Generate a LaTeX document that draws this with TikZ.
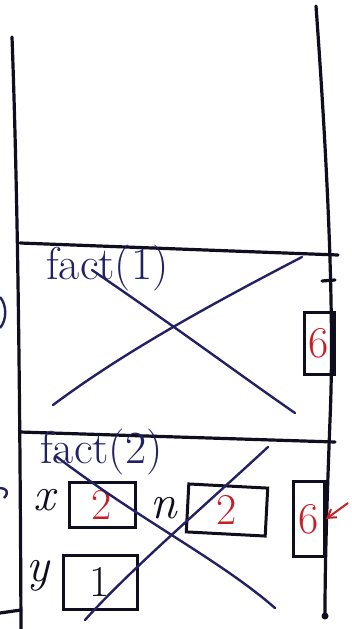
\documentclass[tikz,border=0pt]{standalone}
\usetikzlibrary{arrows.meta}
\definecolor{ink}{RGB}{15,14,30}
\definecolor{pen}{RGB}{35,33,100}
\definecolor{redink}{RGB}{200,30,40}
\tikzset{
  wall/.style={ink, line width=3.2pt, line cap=round},
  cross/.style={pen, line width=2.4pt, line cap=round},
  valbox/.style={draw=ink, line width=3pt, inner sep=0pt},
  lbl/.style={pen, font=\fontsize{46}{50}\selectfont, inner sep=0pt},
  var/.style={ink, font=\itshape\fontsize{48}{52}\selectfont, inner sep=0pt},
  val/.style={redink, font=\fontsize{44}{48}\selectfont, inner sep=0pt},
}
\begin{document}
\begin{tikzpicture}[x=1pt,y=-1pt]
\useasboundingbox (0,0) rectangle (351,629);
% stack walls
\draw[wall] (12,37) .. controls (18,200) and (20,400) .. (21,629);
\draw[wall] (316,6) .. controls (330,200) and (334,330) .. (330,420) .. controls (327,500) and (325,560) .. (325,615);
\fill[ink] (325,616) circle (3.5pt);
% frame separators
\draw[wall] (20,243) -- (338,255);
\draw[wall] (20,432) -- (335,442);
% fact(1) frame
\node[lbl, anchor=west] (f1) at (46,268) {fact(1)};
\node[valbox, minimum width=30pt, minimum height=62pt] (r1) at (319,343) {};
\node[val] at (r1.center) {6};
\draw[cross] (92,270) .. controls (180,330) and (240,375) .. (295,413);
\draw[cross] (302,257) .. controls (200,310) and (120,355) .. (53,405);
% fact(2) frame
\node[lbl, anchor=west] (f2) at (40,452) {fact(2)};
\node[var] (lx) at (44,500) {x};
\node[valbox, minimum width=66pt, minimum height=45pt] (bx) at (102,505) {};
\node[val] at (bx.center) {2};
\node[var] (ln) at (164,508) {n};
\node[valbox, minimum width=79pt, minimum height=48pt, rotate=-3] (bn) at (227,510) {};
\node[val] at (bn.center) {2};
\node[var] (ly) at (38,576) {y};
\node[valbox, minimum width=74pt, minimum height=54pt] (by) at (100,582) {};
\node[ink, font=\fontsize{44}{48}\selectfont, inner sep=0pt] at (by.center) {1};
\node[valbox, minimum width=31pt, minimum height=75pt] (r2) at (309,519) {};
\node[val] at (r2.center) {6};
\coordinate (ain) at (348,503);
\draw[redink, line width=2pt, -{Straight Barb[length=8pt,width=10pt]}] (ain) -- (r2.east);
\draw[cross] (57,457) .. controls (140,520) and (220,560) .. (275,608);
\draw[cross] (268,447) .. controls (200,510) and (130,570) .. (85,620);
% edge fragments
\draw[pen, line width=2.4pt] (0,297) .. controls (7,305) and (7,320) .. (0,328);
\draw[pen, line width=2.4pt] (0,488) .. controls (6,488) and (10,492) .. (4,498);
\draw[wall] (0,613) -- (21,610);
\draw[wall] (322,281) -- (335,280);
\end{tikzpicture}
\end{document}
